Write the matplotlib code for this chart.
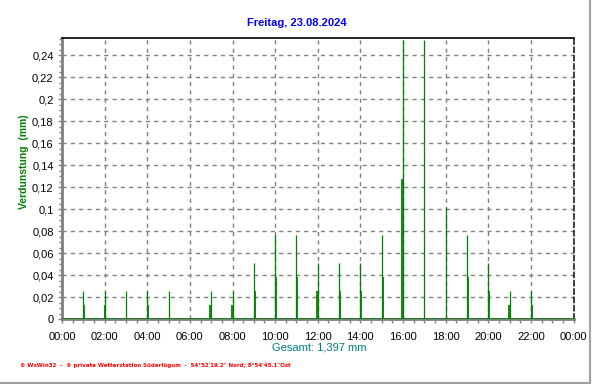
import matplotlib
matplotlib.use("Agg")
import matplotlib.pyplot as plt
from matplotlib.ticker import MultipleLocator, FixedLocator, FuncFormatter
from matplotlib.lines import Line2D
from matplotlib import font_manager

# ---- data ----
title = "Freitag, 23.08.2024"
ylabel = "Verdunstung  (mm)"
total_label = "Gesamt: 1,397 mm"
footer = "\u00a9 WsWin32  -  \u00a9 private Wetterstation S\u00fcderl\u00fcgum  -  54\u00b052'19.2\" Nord; 8\u00b054'45.1\"Ost"

tall_hours = [1, 2, 3, 4, 5, 7, 8, 9, 10, 11, 12, 13, 14, 15, 16, 17, 18, 19, 20, 21, 22]
tall_values = [0.0254, 0.0254, 0.0254, 0.0254, 0.0254, 0.0254, 0.0254, 0.0508, 0.0762,
               0.0762, 0.0508, 0.0508, 0.0508, 0.0762, 0.254, 0.254, 0.1016, 0.0762,
               0.0508, 0.0254, 0.0254]
short_hours = [1.04, 2.04, 4.04, 6.96, 7.96, 9.04, 10.04, 11.04, 11.96, 13.04, 14.04,
               15.04, 15.96, 19.04, 20.04, 20.96, 22.04]
short_values = [0.0127, 0.0127, 0.0127, 0.0127, 0.0127, 0.0254, 0.0381, 0.0381, 0.0254,
                0.0254, 0.0254, 0.0381, 0.127, 0.0381, 0.0254, 0.0127, 0.0127]
x_tick_hours = list(range(0, 25, 2))
x_tick_labels = ["00:00", "02:00", "04:00", "06:00", "08:00", "10:00", "12:00",
                 "14:00", "16:00", "18:00", "20:00", "22:00", "00:00"]
y_ticks = [0, 0.02, 0.04, 0.06, 0.08, 0.1, 0.12, 0.14, 0.16, 0.18, 0.2, 0.22, 0.24]

# ---- fonts ----
avail = {f.name for f in font_manager.fontManager.ttflist}
fam = "Liberation Sans Narrow" if "Liberation Sans Narrow" in avail else "Liberation Sans"

fig = plt.figure(figsize=(5.92, 3.84), dpi=100)
ax = fig.add_axes([62 / 592, 1 - 319 / 384, (573.5 - 62) / 592, (319 - 38) / 384])

green = "#008000"
ax.vlines(tall_hours, 0, tall_values, colors=green, linewidth=0.9, zorder=3)
ax.vlines(short_hours, 0, short_values, colors=green, linewidth=1.3, zorder=3)
ax.axhline(0, color=green, linewidth=1.2, zorder=4)

ax.set_xlim(0, 24)
ax.set_ylim(0, 0.2555)

ax.xaxis.set_major_locator(FixedLocator(x_tick_hours))
ax.set_xticklabels(x_tick_labels)
ax.xaxis.set_minor_locator(MultipleLocator(0.5))
ax.yaxis.set_major_locator(FixedLocator(y_ticks))
ax.yaxis.set_minor_locator(MultipleLocator(0.005))
ax.yaxis.set_major_formatter(FuncFormatter(lambda v, p: ("%g" % round(v, 3)).replace(".", ",")))

ax.tick_params(axis="both", which="both", direction="out", color="#808080", width=1,
               labelsize=8, labelcolor="black")
ax.tick_params(axis="x", which="both", length=3, pad=6)
ax.tick_params(axis="y", which="major", length=3, pad=3)
ax.tick_params(axis="y", which="minor", length=2)
for lab in ax.get_xticklabels() + ax.get_yticklabels():
    lab.set_fontfamily(fam)

ax.grid(True, which="major", color="#808080", linestyle=(0, (3, 3)), linewidth=1)

for s in ["left", "bottom"]:
    ax.spines[s].set_color("#808080")
    ax.spines[s].set_linewidth(2)
ax.spines["top"].set_color("black")
ax.spines["top"].set_linewidth(1.2)
ax.spines["right"].set_color("#202020")
ax.spines["right"].set_linewidth(1.2)
ax.spines["right"].set_linestyle((0, (3, 2)))

fig.text(297 / 592, 1 - 23 / 384, title, color="#0000ff", fontsize=8, fontweight="bold",
         ha="center", va="center", family=fam)
fig.text(24 / 592, 1 - 162 / 384, ylabel, color=green, fontsize=7.5, fontweight="bold",
         rotation=90, ha="center", va="center", family=fam)
fig.text(319 / 592, 1 - 348 / 384, total_label, color="#008080", fontsize=8,
         ha="center", va="center", family=fam)
fig.text(20 / 592, 1 - 365 / 384, footer, color="#ff0000", fontsize=4, fontweight="bold",
         ha="left", va="center", family="DejaVu Sans")

# figure frame (right & bottom grey border)
fig.add_artist(Line2D([590 / 592, 590 / 592], [1, 1.5 / 384], transform=fig.transFigure,
                      color="#a0a0a0", linewidth=1.5))
fig.add_artist(Line2D([0, 590 / 592], [1.5 / 384, 1.5 / 384], transform=fig.transFigure,
                      color="#a0a0a0", linewidth=1.5))

fig.savefig("out.png", dpi=100, facecolor="white")
